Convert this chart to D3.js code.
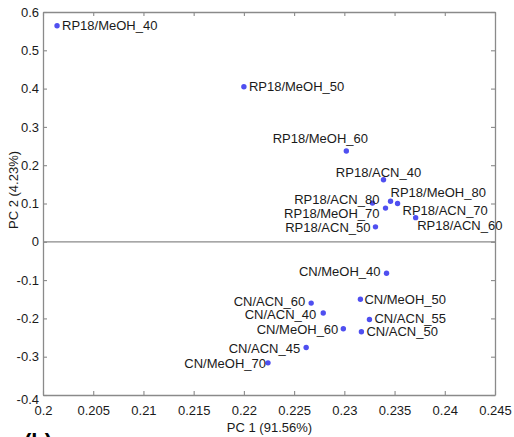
<!DOCTYPE html>
<html>
<head>
<meta charset="utf-8">
<script src="https://cdn.jsdelivr.net/npm/d3@7"></script>
<style>
  html, body { margin: 0; padding: 0; background: #fff; }
  svg { display: block; font-family: "Liberation Sans", Arial, sans-serif; }
</style>
</head>
<body>
<svg id="chart" width="514" height="437"></svg>
<script>
// ---- data ----
const names = [
  "RP18/MeOH_40", "RP18/MeOH_50", "RP18/MeOH_60", "RP18/ACN_40",
  "RP18/ACN_80", "RP18/MeOH_80", "RP18/ACN_70", "RP18/MeOH_70",
  "RP18/ACN_60", "RP18/ACN_50",
  "CN/MeOH_40", "CN/ACN_60", "CN/MeOH_50", "CN/ACN_40", "CN/ACN_55",
  "CN/MeOH_60", "CN/ACN_50", "CN/ACN_45", "CN/MeOH_70"
];
const pc1 = [
  0.2014, 0.2200, 0.2302, 0.2339,
  0.2328, 0.2346, 0.2353, 0.2341,
  0.2371, 0.2331,
  0.2342, 0.2267, 0.2316, 0.2279, 0.2325,
  0.2299, 0.2317, 0.2262, 0.2224
];
const pc2 = [
  0.564, 0.405, 0.237, 0.162,
  0.101, 0.106, 0.100, 0.088,
  0.063, 0.039,
  -0.082, -0.160, -0.150, -0.186, -0.203,
  -0.227, -0.235, -0.276, -0.316
];
const xTicks = [0.2, 0.205, 0.21, 0.215, 0.22, 0.225, 0.23, 0.235, 0.24, 0.245];
const xTickLabels = ["0.2", "0.205", "0.21", "0.215", "0.22", "0.225", "0.23", "0.235", "0.24", "0.245"];
const yTicks = [-0.4, -0.3, -0.2, -0.1, 0, 0.1, 0.2, 0.3, 0.4, 0.5, 0.6];
const yTickLabels = ["-0.4", "-0.3", "-0.2", "-0.1", "0", "0.1", "0.2", "0.3", "0.4", "0.5", "0.6"];
const xTitle = "PC 1 (91.56%)";
const yTitle = "PC 2 (4.23%)";

// ---- label placement (layout only: anchor, pixel offsets) ----
const labelPlacement = [
  ["start", 5, 0], ["start", 5, 0], ["middle", -26, -13], ["middle", -5, -7],
  ["end", 7, -4], ["start", 0, -8.5], ["start", 5, 6.5], ["end", -6, 5],
  ["start", 1.5, 8], ["end", -5, 1],
  ["end", -6, -1.5], ["end", -6, -2], ["start", 4, 0.5], ["end", -7, 1.5], ["start", 5, -1],
  ["end", -5, 1], ["start", 5, 0], ["end", -6, 0.5], ["end", -2, 0.5]
];

// ---- chart ----
const svg = d3.select("#chart");
const L = 43, R = 495, T = 12, B = 395;
const x = d3.scaleLinear().domain([0.2, 0.245]).range([L, R]);
const y = d3.scaleLinear().domain([-0.4, 0.6]).range([B, T]);
const axisColor = "#8a8a8a";
const textColor = "#1a1a1a";

function styleAxis(g) {
  g.select(".domain").attr("stroke", axisColor).attr("stroke-width", 1.3);
  g.selectAll(".tick line").attr("stroke", axisColor).attr("stroke-width", 1.1);
  g.selectAll(".tick text").attr("fill", textColor).style("font-size", "13px")
    .style("font-family", "'Liberation Sans', Arial, sans-serif");
}

// zero line
svg.append("line")
  .attr("x1", x(0.2)).attr("x2", x(0.245))
  .attr("y1", y(0)).attr("y2", y(0))
  .attr("stroke", axisColor).attr("stroke-width", 1.3);

// bottom
svg.append("g").attr("transform", `translate(0,${B})`)
  .call(d3.axisBottom(x).tickValues(xTicks).tickSize(-4).tickPadding(11)
    .tickFormat((d, i) => xTickLabels[i]).tickSizeOuter(0))
  .call(styleAxis);
// top
svg.append("g").attr("transform", `translate(0,${T})`)
  .call(d3.axisTop(x).tickValues(xTicks).tickSize(-4).tickFormat("").tickSizeOuter(0))
  .call(styleAxis);
// left
const yLeft = svg.append("g").attr("transform", `translate(${L},0)`)
  .call(d3.axisLeft(y).tickValues(yTicks).tickSize(-4).tickPadding(4)
    .tickFormat((d, i) => yTickLabels[i]).tickSizeOuter(0))
  .call(styleAxis);
yLeft.selectAll(".tick text").filter(d => d === -0.4).attr("y", 4);
// right
svg.append("g").attr("transform", `translate(${R},0)`)
  .call(d3.axisRight(y).tickValues(yTicks).tickSize(-4).tickFormat("").tickSizeOuter(0))
  .call(styleAxis);

// axis titles
svg.append("text")
  .attr("x", (L + R) / 2 + 0.5).attr("y", 432)
  .attr("text-anchor", "middle")
  .attr("fill", textColor)
  .style("font-size", "13px")
  .text(xTitle);
svg.append("text")
  .attr("transform", `translate(18,190) rotate(-90)`)
  .attr("text-anchor", "middle")
  .attr("fill", textColor)
  .style("font-size", "13px")
  .text(yTitle);

// panel letter (cut off at bottom, as in the source figure)
svg.append("text")
  .attr("x", 24).attr("y", 449)
  .attr("fill", "#000")
  .style("font-size", "22px").style("font-weight", "bold")
  .text("(b)");

// points
const pts = names.map((n, i) => ({ name: n, x: pc1[i], y: pc2[i], p: labelPlacement[i] }));
svg.append("g").selectAll("circle").data(pts).join("circle")
  .attr("cx", d => x(d.x)).attr("cy", d => y(d.y))
  .attr("r", 2.7).attr("fill", "#4f4ff0");

svg.append("g").selectAll("text").data(pts).join("text")
  .attr("x", d => x(d.x) + d.p[1])
  .attr("y", d => y(d.y) + d.p[2])
  .attr("dy", "0.35em")
  .attr("text-anchor", d => d.p[0])
  .attr("fill", textColor)
  .style("font-size", "13px")
  .text(d => d.name);
</script>
</body>
</html>
